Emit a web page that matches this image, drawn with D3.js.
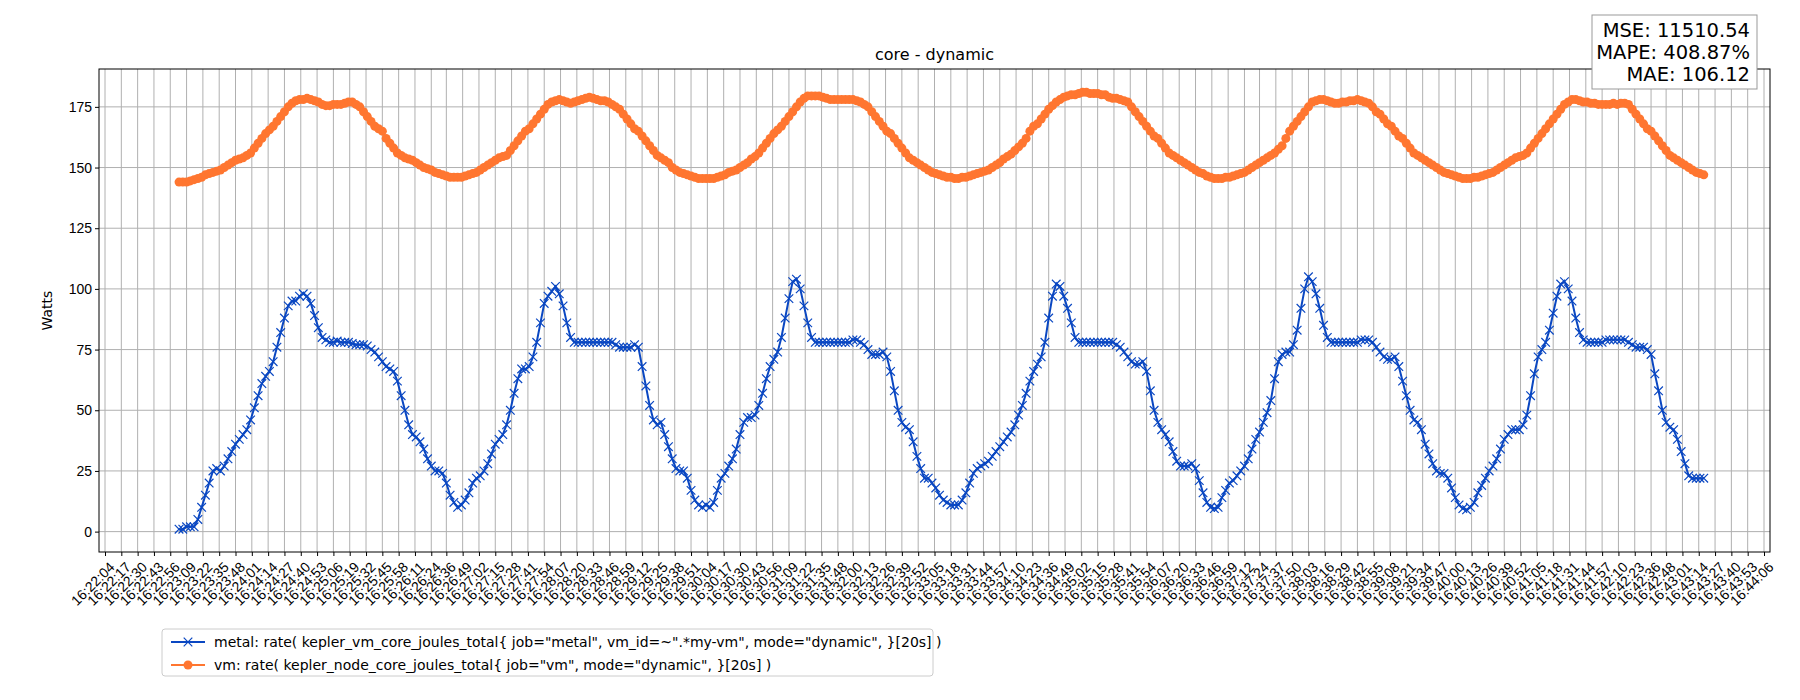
<!DOCTYPE html>
<html><head><meta charset="utf-8">
<script src="https://cdn.jsdelivr.net/npm/d3@7"></script>
<style>body{margin:0;background:#fff}svg{font-family:"DejaVu Sans",sans-serif}</style>
</head><body><svg id="c" width="1800" height="700"></svg>
<script>
const tickLabels = ["16:22:04","16:22:17","16:22:30","16:22:43","16:22:56","16:23:09","16:23:22","16:23:35","16:23:48","16:24:01","16:24:14","16:24:27","16:24:40","16:24:53","16:25:06","16:25:19","16:25:32","16:25:45","16:25:58","16:26:11","16:26:24","16:26:36","16:26:49","16:27:02","16:27:15","16:27:28","16:27:41","16:27:54","16:28:07","16:28:20","16:28:33","16:28:46","16:28:59","16:29:12","16:29:25","16:29:38","16:29:51","16:30:04","16:30:17","16:30:30","16:30:43","16:30:56","16:31:09","16:31:22","16:31:35","16:31:48","16:32:00","16:32:13","16:32:26","16:32:39","16:32:52","16:33:05","16:33:18","16:33:31","16:33:44","16:33:57","16:34:10","16:34:23","16:34:36","16:34:49","16:35:02","16:35:15","16:35:28","16:35:41","16:35:54","16:36:07","16:36:20","16:36:33","16:36:46","16:36:59","16:37:12","16:37:24","16:37:37","16:37:50","16:38:03","16:38:16","16:38:29","16:38:42","16:38:55","16:39:08","16:39:21","16:39:34","16:39:47","16:40:00","16:40:13","16:40:26","16:40:39","16:40:52","16:41:05","16:41:18","16:41:31","16:41:44","16:41:57","16:42:10","16:42:23","16:42:36","16:42:48","16:43:01","16:43:14","16:43:27","16:43:40","16:43:53","16:44:06"];
const yTicks = [0,25,50,75,100,125,150,175];
const dataStart = "16:23:03";
const stepSeconds = 3;
const metal = [
1,1,2,2,2,5,10,15,20,25,26,25,27,30,33,36,38,40,42,46,51,56,61,64,66,70,76,82,88,93,95,95,97,98,97,94,89,84,80,79,
78,78,78.5,78,78,78,77.5,77,77,77,76.5,75,74,72,70,68,67,66,62,56,50,44,40,39,37,34,30,27,25,25,24,20,15,12,
10,11,13,16,20,22,23,25,28,32,36,38,40,44,50,57,63,67,67,68,72,78,86,94,97,99,101,98,93,86,80,78,78,78,78,78,78,78,78,78,
78,78,77,76,76,76,76,77,76,68,60,52,46,44,45,40,35,30,26,25,25,22,17,13,11,10,11,
10,12,17,22,24,27,30,34,40,45,47,47,48,52,57,63,68,71,74,80,88,96,103,104,100,93,86,80,78,78,78,78,78,78,78,78,78,78,79,79,
78,77,75,73,73,73,74,72,66,58,50,45,43,42,37,31,26,22,22,20,18,15,13,12,11,11,
11,13,16,20,24,26,27,28,29,31,33,35,37,39,41,44,48,52,57,62,66,69,72,78,88,97,102,101,97,92,86,80,78,78,78,78,78,78,78,78,
78,78,77,76,74,72,70,69,69,70,66,58,50,45,42,40,37,33,29,27,27,27,28,26,21,16,12,10,9.5,
10,14,17,20,21,23,25,27,30,34,38,41,45,49,54,63,70,73,74,74,77,83,92,100,105,103,98,92,85,80,78,78,78,78,78,78,78,78,79,79,
79,78,76,74,72,71,71,72,68,62,56,50,46,45,42,36,32,28,25,24,24,22,18,14,11,9.5,9,
10,12,16,19,22,25,27,30,34,38,40,42,42,42,44,48,56,65,72,75,78,83,90,97,102,103,100,95,88,82,79,78,78,78,78,78,79,79,79,79,
79,79,78,77,76,76,76,75,73,65,58,50,45,43,42,38,33,28,23,22,22,22,22];
const vm = [
144,144,144,144.5,145,145.5,146,147,147.5,148,148.5,149,150,151,152,153,153.5,154,155,156,158,160,162,164,165.5,167,169,171,173,175,
176.5,177.5,178,178,178.5,178,177.5,177,176,175.5,175.5,176,176,176,176.5,177,177,176,175,173,171,169,167,166,165,162,160,158,156,155,
154,153.5,153,152,151,150,149.5,149,148,147.5,147,146.5,146,146,
146,146,146.5,147,147.5,148,149,150,151,152,153,154,154.5,155,157,159,161,163,165,166,168,170,172,174,176,177,177.5,178,177.5,177,
176.5,177,177.5,178,178.5,179,178.5,178,177.5,177.5,177,176,175,174,172,170,168,166,165,163,161,159,157,155,154,153,152,150,149,148,
147.5,147,146.5,146,145.5,145.5,145.5,
145.5,145.5,146,146.5,147,148,148.5,149,150,151,152,153.5,154.5,156,158,160,162,164,165.5,167,169,171,173,175,177,178.5,179.5,179.5,179.5,179.5,
179,178.5,178,178,178,178,178,178,178,177.5,177,176,175,173,171,169,167,165,164,162,160,158,156,154,153,152,151,150,149,148,
147.5,147,146.5,146,146,145.5,
145.5,146,146,146.5,147,147.5,148,148.5,149,150,151,152,153.5,154.5,155.5,157,158.5,160,162,165,167,168,170,172,174,175.5,177,178,179,179.5,
180,180,180.5,181,181,180.5,180.5,180.5,180,180,179,178.5,178.5,178,177.5,177,175,173,171,169,167,165,163,162,160,158,156,155,154,153,
152,151,150,149,148,147.5,146.5,146,145.5,
145.5,145.5,146,146,146.5,147,147.5,148,149,150,151,152,153,154,155,156,157.5,159,162,165,167,169,171,173,175,177,177.5,178,178,177.5,
177,176.5,176.5,177,177,177.5,177.5,178,177.5,177,176.5,175,173,172,170,168,167,165,163,162,160,158,156,155,154,153,152,151,150,149,
148,147.5,147,146.5,146,145.5,145.5,
145.5,146,146,146.5,147,147.5,148,149,150,151,152,153,154,154.5,155,156,158,160,162,164,166,168,170,172,174,176,177,178,178,177.5,
177,177,176.5,176.5,176,176,176,176,176.5,176,176.5,176.5,176,174,172,170,168,166,165,163,161,159,157,155,154,153,152,151,150,149,
148,147.5,147];
const seriesNames = ['metal: rate( kepler_vm_core_joules_total{ job="metal", vm_id=~".*my-vm", mode="dynamic", }[20s] )',
  'vm: rate( kepler_node_core_joules_total{ job="vm", mode="dynamic", }[20s] )'];
const metrics = ["MSE: 11510.54","MAPE: 408.87%","MAE: 106.12"];

const toSec = s => { const [h,m,x] = s.split(":").map(Number); return h*3600+m*60+x; };
const t0 = toSec(dataStart);
const svg = d3.select("#c");
const L=99, R=1770, T=69, B=552;
const x = d3.scaleLinear().domain([toSec(tickLabels[0]), toSec(tickLabels[tickLabels.length-1])]).range([L+6,R-6]);
const y = d3.scaleLinear().domain([-8.4,190.6]).range([B,T]);
const tickVals = tickLabels.map(toSec);

const g = svg.append("g");
g.selectAll(".vg").data(tickVals).join("line").attr("x1",d=>x(d)).attr("x2",d=>x(d)).attr("y1",T).attr("y2",B).attr("stroke","#b0b0b0").attr("stroke-width",1);
g.selectAll(".hg").data(yTicks).join("line").attr("x1",L).attr("x2",R).attr("y1",d=>y(d)).attr("y2",d=>y(d)).attr("stroke","#b0b0b0").attr("stroke-width",1);

const xa = svg.append("g").attr("transform",`translate(0,${B})`).call(d3.axisBottom(x).tickValues(tickVals).tickFormat((d,i)=>tickLabels[i]).tickSizeOuter(0).tickSize(4));
xa.selectAll("text").attr("font-size",14).attr("fill","#000").attr("text-anchor","end").attr("dx",0).attr("dy",0)
  .attr("transform","translate(5,11) rotate(-45)");
xa.select(".domain").remove();
const ya = svg.append("g").attr("transform",`translate(${L},0)`).call(d3.axisLeft(y).tickValues(yTicks).tickSize(4).tickSizeOuter(0));
ya.selectAll("text").attr("font-size",14).attr("fill","#000");
ya.select(".domain").remove();
svg.append("rect").attr("x",L).attr("y",T).attr("width",R-L).attr("height",B-T).attr("fill","none").attr("stroke","#000").attr("stroke-width",1);

const colM="#0a47c2", colV="#ff7630";
const ptsM = metal.map((v,i)=>[t0+i*stepSeconds,v]);
const ptsV = vm.map((v,i)=>[t0+i*stepSeconds,v]);
const line = d3.line().x(d=>x(d[0])).y(d=>y(d[1]));
svg.append("path").datum(ptsV).attr("d",line).attr("fill","none").attr("stroke",colV).attr("stroke-width",2);
svg.append("g").selectAll("circle").data(ptsV).join("circle").attr("cx",d=>x(d[0])).attr("cy",d=>y(d[1])).attr("r",4.5).attr("fill",colV);
svg.append("path").datum(ptsM).attr("d",line).attr("fill","none").attr("stroke",colM).attr("stroke-width",2);
const xm = d3.symbol().type(d3.symbolX).size(50);
svg.append("g").selectAll("path").data(ptsM).join("path").attr("d",xm).attr("transform",d=>`translate(${x(d[0])},${y(d[1])})`).attr("fill","none").attr("stroke",colM).attr("stroke-width",1.2);

svg.append("text").attr("x",(L+R)/2).attr("y",60).attr("text-anchor","middle").attr("font-size",16).text("core - dynamic");
svg.append("text").attr("transform",`translate(52,${(T+B)/2}) rotate(-90)`).attr("text-anchor","middle").attr("font-size",14).text("Watts");

const lg = svg.append("g");
lg.append("rect").attr("x",162).attr("y",629).attr("width",771).attr("height",47).attr("rx",3).attr("fill","#fff").attr("stroke","#ccc");
const cols=[colM,colV];
seriesNames.forEach((n,i)=>{
  const yy=642+i*23;
  lg.append("line").attr("x1",171).attr("x2",205).attr("y1",yy).attr("y2",yy).attr("stroke",cols[i]).attr("stroke-width",2);
  if(i==0) lg.append("path").attr("d",xm).attr("transform",`translate(188,${yy})`).attr("fill","none").attr("stroke",colM).attr("stroke-width",1.2);
  else lg.append("circle").attr("cx",188).attr("cy",yy).attr("r",4.5).attr("fill",colV);
  lg.append("text").attr("x",214).attr("y",yy+5).attr("font-size",14).text(n);
});

const mb = svg.append("g");
mb.append("rect").attr("x",1592).attr("y",15).attr("width",165).attr("height",74).attr("fill","#fff").attr("stroke","#999");
metrics.forEach((m,i)=>mb.append("text").attr("x",1750).attr("y",37+i*22).attr("text-anchor","end").attr("font-size",19.5).text(m));
</script></body></html>
